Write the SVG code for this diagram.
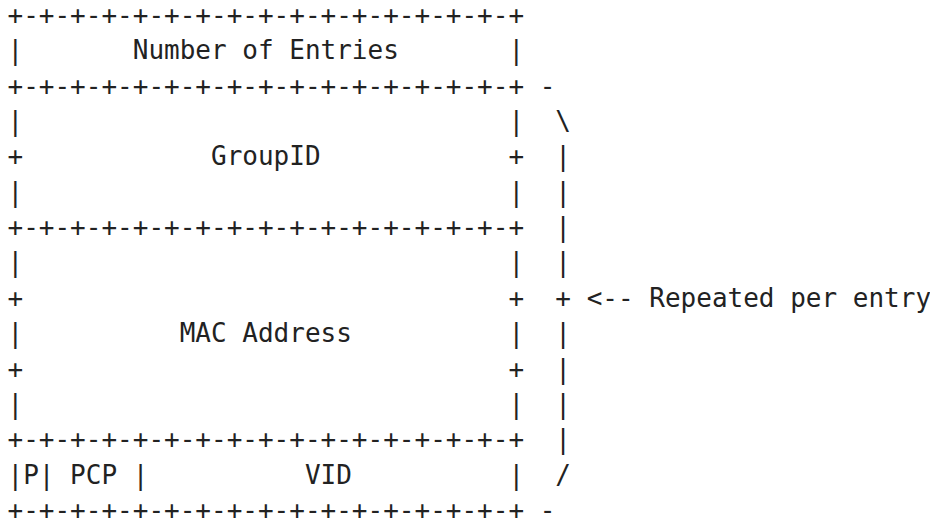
<svg xmlns="http://www.w3.org/2000/svg" width="930" height="525" viewBox="0 0 930 525">
<style>
text{font-family:"DejaVu Sans Mono","Liberation Mono",monospace;font-size:26px;fill:#222;white-space:pre}
</style>
<rect width="930" height="525" fill="#fff"/>
<g id="diagram">
<text x="7.5" y="24">+-+-+-+-+-+-+-+-+-+-+-+-+-+-+-+-+</text>
<text x="7.5" y="59.35">|       Number of Entries       |</text>
<text x="7.5" y="94.7">+-+-+-+-+-+-+-+-+-+-+-+-+-+-+-+-+ -</text>
<text x="7.5" y="130.05">|                               |  \</text>
<text x="7.5" y="165.4">+            GroupID            +  |</text>
<text x="7.5" y="200.75">|                               |  |</text>
<text x="7.5" y="236.1">+-+-+-+-+-+-+-+-+-+-+-+-+-+-+-+-+  |</text>
<text x="7.5" y="271.45">|                               |  |</text>
<text x="7.5" y="306.8">+                               +  + &lt;-- Repeated per entry</text>
<text x="7.5" y="342.15">|          MAC Address          |  |</text>
<text x="7.5" y="377.5">+                               +  |</text>
<text x="7.5" y="412.85">|                               |  |</text>
<text x="7.5" y="448.2">+-+-+-+-+-+-+-+-+-+-+-+-+-+-+-+-+  |</text>
<text x="7.5" y="483.55">|P| PCP |          VID          |  /</text>
<text x="7.5" y="518.9">+-+-+-+-+-+-+-+-+-+-+-+-+-+-+-+-+ -</text>
</g>
</svg>
